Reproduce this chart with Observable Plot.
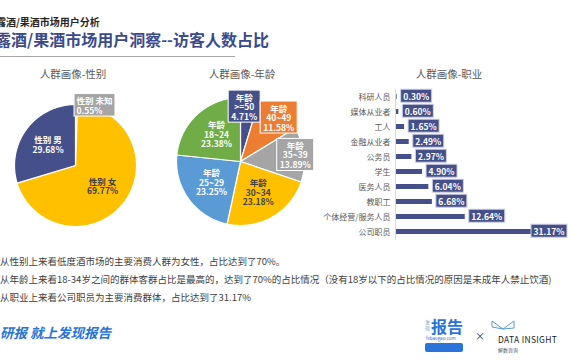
<!DOCTYPE html>
<html><head><meta charset="utf-8">
<script src="https://cdn.jsdelivr.net/npm/d3@7"></script>
<script src="https://cdn.jsdelivr.net/npm/@observablehq/plot@0.6"></script>
<style>
body{margin:0;background:#fff;font-family:"Noto Sans CJK SC","Noto Sans",sans-serif;}
#root{position:relative;width:570px;height:360px;overflow:hidden;background:#fff;}
.abs{position:absolute;white-space:nowrap;line-height:1;}
.ct{position:absolute;font-size:10.5px;color:#595959;text-align:center;width:120px;line-height:1;}
.note{position:absolute;left:0;font-size:9.5px;color:#404040;white-space:nowrap;line-height:1;}
svg{overflow:visible;}
</style></head><body><div id="root"></div>
<script>
// ---------- data ----------
const genderLabels = ["性别 未知", "性别 女", "性别 男"];
const genderValues = [0.55, 69.77, 29.68];
const genderColors = ["#a5a5a5", "#ffc000", "#45508b"];
const genderTextColors = ["#ffffff", "#404040", "#ffffff"];

const ageLabels = ["年龄\n>=50", "年龄\n40~49", "年龄\n35~39", "年龄\n30~34", "年龄\n25~29", "年龄\n18~24"];
const ageValues = [4.71, 11.58, 13.89, 23.18, 23.25, 23.38];
const ageColors = ["#45508b", "#ed7d31", "#a5a5a5", "#ffc000", "#5b9bd5", "#70ad47"];
const ageTextColors = ["#ffffff", "#ffffff", "#ffffff", "#404040", "#ffffff", "#ffffff"];

const jobLabels = ["科研人员", "媒体从业者", "工人", "金融从业者", "公务员", "学生", "医务人员", "教职工", "个体经营/服务人员", "公司职员"];
const jobValues = [0.30, 0.60, 1.65, 2.49, 2.97, 4.90, 6.04, 6.68, 12.64, 31.17];
const barColor = "#45508b";

const FONT = '"Noto Sans CJK SC","Noto Sans",sans-serif';
const SVGNS = "http://www.w3.org/2000/svg";
const root = document.getElementById("root");

function addDiv(html, cls, style) {
  const d = document.createElement("div");
  d.className = cls; d.innerHTML = html;
  Object.assign(d.style, style);
  root.appendChild(d);
  return d;
}

// ---------- header ----------
addDiv("露酒/果酒市场用户分析", "abs", {left: "-4px", top: "17px", fontSize: "10px", fontWeight: "bold", color: "#262626"});
addDiv("露酒/果酒市场用户洞察--访客人数占比", "abs", {left: "-5px", top: "31px", fontSize: "16px", fontWeight: "bold", color: "#3b4a8c"});
addDiv("", "abs", {left: "0px", top: "56px", width: "235px", height: "1px", background: "#a6a6a6"});

addDiv("人群画像-性别", "ct", {left: (73 - 60) + "px", top: "69px"});
addDiv("人群画像-年龄", "ct", {left: (242 - 60) + "px", top: "69px"});
addDiv("人群画像-职业", "ct", {left: (449 - 60) + "px", top: "69px"});

// ---------- helpers ----------
function addBoxes(svg, padX) {
  const items = [];
  svg.querySelectorAll('text[aria-label^="box:"]').forEach(t => {
    const parts = t.getAttribute("aria-label").split(":");
    const color = parts[1], stroke = parts[2];
    const b = t.getBBox();
    const g = document.createElementNS(SVGNS, "g");
    const r = document.createElementNS(SVGNS, "rect");
    r.setAttribute("x", b.x - padX);
    r.setAttribute("y", b.y - 0.5);
    r.setAttribute("width", b.width + 2 * padX);
    r.setAttribute("height", b.height + 1);
    r.setAttribute("fill", color);
    r.setAttribute("stroke", stroke);
    r.setAttribute("stroke-width", 1);
    if (t.getAttribute("transform")) r.setAttribute("transform", t.getAttribute("transform"));
    t.parentNode.insertBefore(g, t);
    g.appendChild(r);
    g.appendChild(t);
    t.removeAttribute("aria-label");
    items.push({g, shift: 0});
  });
  // resolve horizontal overlaps between neighbouring boxes
  for (let i = 0; i < items.length - 1; i++) {
    const a = items[i].g.getBoundingClientRect(), b = items[i + 1].g.getBoundingClientRect();
    const oy = Math.min(a.bottom, b.bottom) - Math.max(a.top, b.top);
    const ox = Math.min(a.right, b.right) - Math.max(a.left, b.left);
    if (ox > 0 && oy > 0) {
      const s = a.left < b.left ? 1 : -1;
      items[i].shift -= s * ox / 2;
      items[i + 1].shift += s * ox / 2;
      items[i].g.setAttribute("transform", `translate(${items[i].shift},0)`);
      items[i + 1].g.setAttribute("transform", `translate(${items[i + 1].shift},0)`);
    }
  }
}

function piePlot(labels, values, colors, textColors, W, H, cx, cy, r) {
  const arcs = d3.pie().sort(null).value(d => d)(values);
  const poly = [];
  const marks = [];
  arcs.forEach((a, i) => {
    const n = Math.max(2, Math.ceil((a.endAngle - a.startAngle) / (Math.PI / 180)));
    poly.push({name: labels[i], x: 0, y: 0});
    for (let k = 0; k <= n; k++) {
      const t = a.startAngle + (a.endAngle - a.startAngle) * k / n;
      poly.push({name: labels[i], x: Math.sin(t), y: Math.cos(t)});
    }
    poly.push({name: labels[i], x: 0, y: 0});
  });
  marks.push(Plot.line(poly, {x: "x", y: "y", z: "name", fill: "name", stroke: "white", strokeWidth: 1.2, curve: "linear"}));
  arcs.forEach((a, i) => {
    const v = values[i];
    const mid = (a.startAngle + a.endAngle) / 2;
    const tiny = v < 2, small = v < 15;
    const lr = tiny ? 0.98 : small ? 0.86 : 0.56;
    const d = [{x: Math.sin(mid) * lr, y: Math.cos(mid) * lr, t: labels[i] + "\n" + v.toFixed(2) + "%"}];
    const opts = {x: "x", y: "y", text: "t", fill: textColors[i], fontWeight: "bold", fontSize: 8.5, lineHeight: 1.12,
      textAnchor: tiny ? "start" : "middle"};
    if (small) { const lab = "box:" + colors[i] + ":#ffffff"; opts.ariaLabel = () => lab; }
    marks.push(Plot.text(d, opts));
  });
  return Plot.plot({
    width: W, height: H, margin: 0,
    x: {domain: [-cx / r, (W - cx) / r], axis: null},
    y: {domain: [-(H - cy) / r, cy / r], axis: null},
    color: {domain: labels, range: colors},
    style: {fontFamily: FONT, background: "transparent", overflow: "visible"},
    marks
  });
}

function place(svg, left, top, padX) {
  const wrap = document.createElement("div");
  wrap.style.position = "absolute";
  wrap.style.left = left + "px";
  wrap.style.top = top + "px";
  wrap.appendChild(svg);
  root.appendChild(wrap);
  addBoxes(svg, padX);
}

// ---------- gender pie ----------
place(piePlot(genderLabels, genderValues, genderColors, genderTextColors, 160, 180, 75, 105, 61), 0, 60, 2.5);
// ---------- age pie ----------
place(piePlot(ageLabels, ageValues, ageColors, ageTextColors, 160, 180, 80, 101, 64), 160, 60, 3);

// ---------- occupation bars ----------
const jobData = jobLabels.map((name, i) => ({name, v: jobValues[i], t: jobValues[i].toFixed(2) + "%"}));
const vmax = d3.max(jobValues);
const barBox = "box:" + barColor + ":#cdd0e3";
const bars = Plot.plot({
  width: 250, height: 170, marginLeft: 75, marginRight: 3, marginTop: 8.5, marginBottom: 10.5,
  x: {domain: [0, vmax], axis: null},
  y: {domain: jobLabels, label: null, tickSize: 0, tickPadding: 5, paddingInner: 0.64, paddingOuter: 0.32},
  style: {fontFamily: FONT, fontSize: "8px", color: "#595959", background: "transparent", overflow: "visible"},
  marks: [
    Plot.barX(jobData, {x: "v", y: "name", fill: barColor}),
    Plot.ruleX([0], {stroke: "#d9d9d9", strokeWidth: 1}),
    Plot.text(jobData.filter(d => d.v < vmax), {x: "v", y: "name", text: "t", dx: 6, textAnchor: "start", fill: "white", fontWeight: "bold", fontSize: 8.5, ariaLabel: () => barBox}),
    Plot.text(jobData.filter(d => d.v === vmax), {x: "v", y: "name", text: "t", dx: -3, textAnchor: "end", fill: "white", fontWeight: "bold", fontSize: 8.5, ariaLabel: () => barBox})
  ]
});
place(bars, 320, 80, 2.5);

// ---------- notes ----------
addDiv("从性别上来看低度酒市场的主要消费人群为女性，占比达到了70%。", "note", {top: "257px"});
addDiv("从年龄上来看18-34岁之间的群体客群占比是最高的，达到了70%的占比情况（没有18岁以下的占比情况的原因是未成年人禁止饮酒)", "note", {top: "275px"});
addDiv("从职业上来看公司职员为主要消费群体，占比达到了31.17%", "note", {top: "293px"});

// ---------- footer ----------
addDiv("研报&nbsp;就上发现报告", "abs", {left: "0px", top: "326px", fontSize: "13.5px", fontWeight: "bold", fontStyle: "italic", color: "#2a73d8"});
addDiv("发<br>现", "abs", {left: "425px", top: "319px", fontSize: "5px", color: "#7f9fd0", lineHeight: "1.2"});
addDiv("报告", "abs", {left: "431px", top: "318px", fontSize: "16px", fontWeight: "bold", color: "#2a73d8"});
addDiv("fxbaogao.com", "abs", {left: "426px", top: "336px", fontSize: "4.5px", color: "#2a73d8"});
addDiv("", "abs", {left: "425px", top: "343px", width: "38px", height: "9px", background: "#2a73d8", borderRadius: "2px"});
addDiv("×", "abs", {left: "475px", top: "331px", fontSize: "10px", color: "#333"});
addDiv('<svg width="26" height="14"><path d="M2,2 L13,10 L24,2 M2,2 L2,8 L13,10 M24,2 L24,9 L13,10" fill="none" stroke="#5b9bd5" stroke-width="1"/></svg>', "abs", {left: "490px", top: "318px"});
addDiv("DATA INSIGHT", "abs", {left: "498px", top: "335px", fontSize: "8.5px", color: "#222", letterSpacing: "0.3px"});
addDiv("解数咨询", "abs", {left: "498px", top: "347px", fontSize: "5px", color: "#555"});
</script></body></html>
